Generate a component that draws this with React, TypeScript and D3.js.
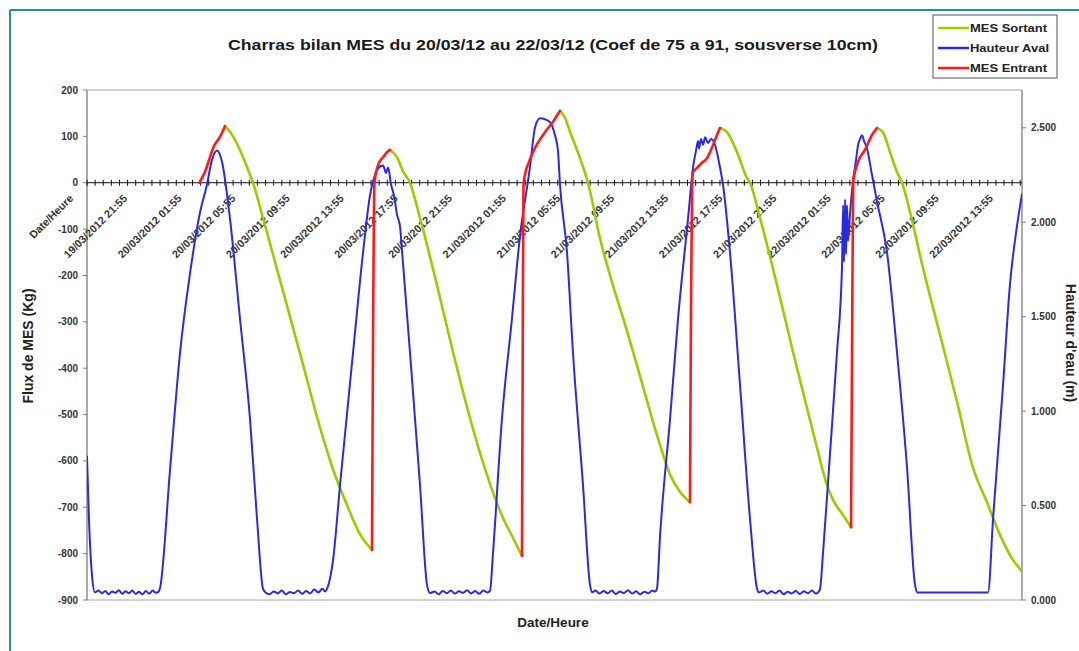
import React from "react";
import * as d3 from "d3";

// Time axis: hours counted from the first category row ("Date/Heure"), one label every 4 h.
const xLabels = [
  "Date/Heure",
  "19/03/2012 21:55",
  "20/03/2012 01:55",
  "20/03/2012 05:55",
  "20/03/2012 09:55",
  "20/03/2012 13:55",
  "20/03/2012 17:55",
  "20/03/2012 21:55",
  "21/03/2012 01:55",
  "21/03/2012 05:55",
  "21/03/2012 09:55",
  "21/03/2012 13:55",
  "21/03/2012 17:55",
  "21/03/2012 21:55",
  "22/03/2012 01:55",
  "22/03/2012 05:55",
  "22/03/2012 09:55",
  "22/03/2012 13:55",
];
const labelStepHours = 4;
const tickStepHours = 0.6;
const xMaxHours = 69.13;

const fluxTicks = [200, 100, 0, -100, -200, -300, -400, -500, -600, -700, -800, -900];
const hauteurTicks = [0, 0.5, 1, 1.5, 2, 2.5];

// MES Sortant, [hours, kg]
const mesSortant: [number, number][] = [
  [10.2, 122], [10.57, 110], [11.09, 84], [11.68, 45], [12.27, 0], [13.01, -76],
  [14.27, -210], [15.75, -368], [17.23, -528], [18.19, -618], [19.22, -695],
  [20.18, -758], [21.07, -792],
  [22.4, 71], [22.92, 55], [23.36, 25], [23.88, 0], [24.62, -76], [25.88, -221],
  [27.06, -365], [28.32, -508], [29.57, -630], [30.76, -723], [31.5, -766], [32.16, -805],
  [34.97, 155], [35.34, 140], [35.71, 110], [36.45, 53], [37.04, 0], [37.93, -120],
  [38.67, -200], [39.93, -320], [41.11, -440], [42.37, -566], [43.11, -630],
  [43.85, -667], [44.58, -689],
  [46.8, 118], [47.32, 109], [48.06, 66], [48.8, 10], [49.02, 0], [49.76, -76],
  [51.02, -221], [52.2, -365], [53.09, -469], [53.83, -555], [54.71, -652],
  [55.16, -684], [55.9, -717], [56.49, -743],
  [58.41, 118], [58.85, 109], [59.37, 66], [59.89, 23], [60.26, 0], [60.85, -63],
  [61.81, -184], [63.07, -328], [64.33, -473], [65.51, -615], [66.54, -689],
  [67.51, -760], [68.47, -814], [69.13, -838],
];
// start index of each tidal cycle
const sortantSegments = [0, 13, 25, 38, 52];

// MES Entrant, [hours, kg]
const mesEntrant: [number, number][] = [
  [8.3, 0], [8.72, 23], [9.09, 55], [9.32, 75], [9.83, 99], [10.2, 122],
  [21.07, -792], [21.15, -322], [21.23, -15], [21.31, 12], [21.52, 38], [21.89, 55],
  [22.18, 66], [22.4, 71],
  [32.16, -805], [32.22, -322], [32.27, -5], [32.38, 17], [32.68, 45], [32.98, 66],
  [33.35, 87], [33.72, 103], [34.09, 118], [34.45, 131], [34.75, 145], [34.97, 155],
  [44.58, -689], [44.66, -260], [44.74, -5], [44.81, 23], [45.1, 32], [45.47, 43],
  [45.84, 53], [46.28, 81], [46.58, 103], [46.8, 118],
  [56.49, -743], [56.57, -330], [56.65, 2], [57.01, 45], [57.52, 71], [58.04, 103],
  [58.41, 118],
];
const entrantSegments = [0, 6, 14, 26, 36];

// Hauteur Aval, [hours, m]
const hauteurAval: [number, number][] = [
  [0, 0.76], [0.15, 0.42], [0.37, 0.13], [0.59, 0.04],
  [0.85, 0.05], [1.1, 0.035], [1.35, 0.048], [1.6, 0.03], [1.85, 0.045], [2.1, 0.038],
  [2.35, 0.052], [2.6, 0.033], [2.85, 0.046], [3.1, 0.036], [3.35, 0.05], [3.6, 0.032],
  [3.85, 0.044], [4.1, 0.03], [4.35, 0.047], [4.6, 0.034], [4.85, 0.05], [5.1, 0.038],
  [5.3, 0.045],
  [5.4, 0.063], [6.14, 0.69], [6.88, 1.31], [7.62, 1.73], [8.35, 2.05], [8.87, 2.2],
  [9.24, 2.33], [9.61, 2.38], [9.98, 2.32], [10.57, 2.02], [11.31, 1.49], [12.05, 0.96],
  [12.57, 0.43], [13.01, 0.06],
  [13.2, 0.04], [13.5, 0.03], [13.8, 0.045], [14.1, 0.035], [14.4, 0.05], [14.7, 0.03],
  [15.0, 0.042], [15.3, 0.036], [15.6, 0.05], [15.9, 0.033], [16.2, 0.047], [16.5, 0.035],
  [16.8, 0.055], [17.1, 0.04], [17.4, 0.06], [17.6, 0.045],
  [17.75, 0.06], [18.19, 0.21], [18.71, 0.61], [19.67, 1.31], [20.41, 1.84],
  [20.92, 2.14], [21.29, 2.25], [21.59, 2.29], [21.89, 2.3], [22.11, 2.26], [22.26, 2.29],
  [22.48, 2.2], [22.7, 2.14], [22.92, 2.04], [23.14, 1.98], [23.29, 1.85], [23.88, 1.31],
  [24.62, 0.61], [25.14, 0.08],
  [25.36, 0.037], [25.7, 0.045], [26.0, 0.03], [26.3, 0.048], [26.6, 0.036], [26.9, 0.05],
  [27.2, 0.034], [27.5, 0.046], [27.8, 0.038], [28.1, 0.052], [28.4, 0.035], [28.7, 0.047],
  [29.0, 0.033], [29.3, 0.05], [29.6, 0.04],
  [29.8, 0.05], [30.02, 0.25], [30.68, 0.96], [31.42, 1.49], [32.02, 1.93], [32.75, 2.29],
  [33.12, 2.5], [33.49, 2.55], [33.86, 2.545], [34.23, 2.53], [34.6, 2.46], [34.82, 2.38],
  [34.97, 2.2], [35.49, 1.84], [35.93, 1.31], [36.67, 0.61], [37.19, 0.08],
  [37.34, 0.04], [37.6, 0.05], [37.9, 0.034], [38.2, 0.047], [38.5, 0.036], [38.8, 0.05],
  [39.1, 0.032], [39.4, 0.045], [39.7, 0.037], [40.0, 0.052], [40.3, 0.034], [40.6, 0.046],
  [40.9, 0.03], [41.2, 0.044], [41.5, 0.036], [41.8, 0.05], [42.0, 0.045],
  [42.14, 0.06], [42.37, 0.34], [43.11, 0.96], [43.7, 1.49], [44.44, 2.02], [44.81, 2.29],
  [45.03, 2.38], [45.18, 2.43], [45.25, 2.39], [45.4, 2.44], [45.55, 2.41], [45.7, 2.45],
  [45.92, 2.42], [46.14, 2.44], [46.43, 2.41], [46.8, 2.29], [47.02, 2.2], [47.54, 1.84],
  [48.28, 1.14], [49.02, 0.43], [49.54, 0.06],
  [49.69, 0.04], [50.0, 0.05], [50.3, 0.033], [50.6, 0.046], [50.9, 0.036], [51.2, 0.05],
  [51.5, 0.03], [51.8, 0.044], [52.1, 0.035], [52.4, 0.048], [52.7, 0.032], [53.0, 0.046],
  [53.3, 0.036], [53.6, 0.05], [53.9, 0.034], [54.1, 0.045],
  [54.2, 0.06], [54.42, 0.25], [54.94, 0.78], [55.45, 1.31], [55.82, 1.76], [55.9, 2.09],
  [55.97, 1.79], [56.05, 2.12], [56.12, 1.83], [56.19, 2.09], [56.27, 1.9], [56.41, 2.04],
  [56.64, 2.22], [56.86, 2.33], [57.01, 2.41], [57.15, 2.44], [57.3, 2.46], [57.45, 2.43],
  [57.67, 2.39], [58.04, 2.25], [58.41, 2.11], [59.15, 1.84], [59.89, 1.31], [60.63, 0.7],
  [61.22, 0.08],
  [61.37, 0.04], [66.62, 0.04],
  [66.99, 0.43], [67.73, 1.14], [68.24, 1.67], [68.76, 1.98], [69.13, 2.15],
];

const legendItems = [
  { label: "MES Sortant", color: "#9ccb00" },
  { label: "Hauteur Aval", color: "#2b2bdc" },
  { label: "MES Entrant", color: "#ff1a1a" },
];

const FONT = "'Liberation Sans', Arial, sans-serif";

function splitSegments(data: [number, number][], starts: number[]) {
  return starts.map((s, i) => data.slice(s, i + 1 < starts.length ? starts[i + 1] : data.length));
}

export default function App() {
  const left = 87, right = 1022, top = 90, bottom = 600;

  const x = d3.scaleLinear().domain([0, xMaxHours]).range([left, right]);
  const yFlux = d3.scaleLinear().domain([-900, 200]).range([bottom, top]);
  const yH = d3.scaleLinear().domain([0, 2.7]).range([bottom, top]);

  const fluxLine = d3
    .line<[number, number]>()
    .x((d) => x(d[0]))
    .y((d) => yFlux(d[1]))
    .curve(d3.curveMonotoneX);
  const hLine = d3
    .line<[number, number]>()
    .x((d) => x(d[0]))
    .y((d) => yH(d[1]))
    .curve(d3.curveMonotoneX);

  const zeroY = yFlux(0);
  const minorTicks = d3.range(0, xMaxHours + 0.001, tickStepHours);
  const labelTimes = xLabels.map((_, i) => i * labelStepHours);

  return (
    <svg
      width={1079}
      height={651}
      style={{ position: "absolute", left: 0, top: 0, background: "#fff" }}
      fontFamily={FONT}
    >
      <rect x={0} y={0} width={1079} height={651} fill="#fff" />
      {/* frame of the sheet */}
      <line x1={10} y1={10} x2={1079} y2={10} stroke="#2a8e8e" strokeWidth={2} />
      <line x1={10} y1={10} x2={10} y2={651} stroke="#2a8e8e" strokeWidth={2} />

      <text
        x={553}
        y={50}
        textAnchor="middle"
        fontSize={14.5}
        fontWeight="bold"
        fill="#1a1a1a"
        textLength={650}
        lengthAdjust="spacingAndGlyphs"
      >
        Charras bilan MES du 20/03/12 au 22/03/12 (Coef de 75 a 91, sousverse 10cm)
      </text>

      {/* plot area */}
      <rect x={left} y={top} width={right - left} height={bottom - top} fill="#fff" stroke="#a6a6a6" />
      <line x1={left} y1={top} x2={left} y2={bottom} stroke="#808080" />
      <line x1={right} y1={top} x2={right} y2={bottom} stroke="#808080" />

      {/* left axis */}
      {fluxTicks.map((v) => (
        <g key={"f" + v}>
          <line x1={left - 4} x2={left} y1={yFlux(v)} y2={yFlux(v)} stroke="#808080" />
          <text x={left - 9} y={yFlux(v) + 3.5} textAnchor="end" fontSize={10} fontWeight="bold" fill="#333">
            {v}
          </text>
        </g>
      ))}
      {/* right axis */}
      {hauteurTicks.map((v) => (
        <g key={"h" + v}>
          <line x1={right} x2={right + 4} y1={yH(v)} y2={yH(v)} stroke="#808080" />
          <text x={right + 9} y={yH(v) + 3.5} textAnchor="start" fontSize={10} fontWeight="bold" fill="#333">
            {d3.format(".3f")(v)}
          </text>
        </g>
      ))}

      {/* category axis crossing at zero */}
      <line x1={left} x2={right} y1={zeroY} y2={zeroY} stroke="#111" strokeWidth={1} />
      {minorTicks.map((t, i) => (
        <line key={"t" + i} x1={x(t)} x2={x(t)} y1={zeroY - 3} y2={zeroY + 3} stroke="#111" />
      ))}
      {xLabels.map((lab, i) => {
        const px = x(labelTimes[i]) - 13;
        const py = 199;
        return (
          <text
            key={"l" + i}
            x={px}
            y={py}
            transform={`rotate(-45 ${px} ${py})`}
            textAnchor="end"
            fontSize={10.8}
            fontWeight="bold"
            fill="#333"
          >
            {lab}
          </text>
        );
      })}

      <defs>
        <clipPath id="plotClip">
          <rect x={left} y={top} width={right - left} height={bottom - top} />
        </clipPath>
      </defs>
      <g clipPath="url(#plotClip)" fill="none" strokeLinejoin="round" strokeLinecap="round">
        {splitSegments(mesSortant, sortantSegments).map((seg, i) => (
          <path key={"s" + i} d={fluxLine(seg) || ""} stroke={legendItems[0].color} strokeWidth={2.6} />
        ))}
        <path d={hLine(hauteurAval) || ""} stroke={legendItems[1].color} strokeWidth={2} />
        {splitSegments(mesEntrant, entrantSegments).map((seg, i) => (
          <path key={"e" + i} d={fluxLine(seg) || ""} stroke={legendItems[2].color} strokeWidth={2.6} />
        ))}
      </g>

      {/* axis titles */}
      <text
        transform="translate(33 346) rotate(-90)"
        textAnchor="middle"
        fontSize={14}
        fontWeight="bold"
        fill="#222"
      >
        Flux de MES (Kg)
      </text>
      <text
        transform="translate(1066 343) rotate(90)"
        textAnchor="middle"
        fontSize={14}
        fontWeight="bold"
        fill="#222"
      >
        Hauteur d'eau (m)
      </text>
      <text x={553} y={627} textAnchor="middle" fontSize={13.5} fontWeight="bold" fill="#222">
        Date/Heure
      </text>

      {/* legend */}
      <rect x={933} y={15} width={124} height={63} fill="#fff" stroke="#555" />
      {legendItems.map((it, i) => {
        const ly = 28 + i * 20;
        return (
          <g key={it.label}>
            <line x1={938} x2={969} y1={ly} y2={ly} stroke={it.color} strokeWidth={2.5} />
            <text x={970} y={ly + 4} fontSize={11} fontWeight="bold" fill="#222" textLength={i === 1 ? 79 : 77} lengthAdjust="spacingAndGlyphs">
              {it.label}
            </text>
          </g>
        );
      })}
    </svg>
  );
}
